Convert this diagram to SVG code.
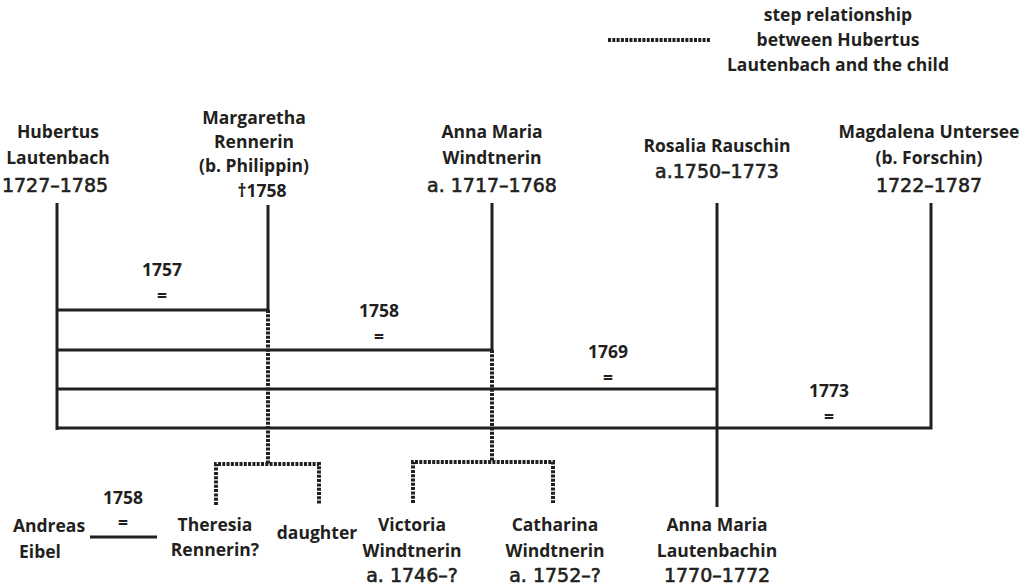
<svg xmlns="http://www.w3.org/2000/svg" width="1030" height="585" viewBox="0 0 1030 585">
<style>
.n{font-family:"Open Sans","Liberation Sans",sans-serif;font-weight:bold;font-size:17.5px;fill:#231f20;text-anchor:middle}
.y{font-family:"DejaVu Sans","Liberation Sans",sans-serif;font-size:19px;fill:#231f20;stroke:#231f20;stroke-width:0.6;text-anchor:middle}
.s{font-family:"Open Sans","Liberation Sans",sans-serif;font-weight:bold;font-size:17.5px;fill:#231f20;text-anchor:middle}
.l{stroke:#231f20;stroke-width:3;fill:none}
.d{stroke:#231f20;stroke-width:4;fill:none;stroke-dasharray:3 1.3}
</style>
<rect width="1030" height="585" fill="#fff"/>
<g id="connectors">
<path class="l" d="M57,203V430"/>
<path class="l" d="M268,205V310H57"/>
<path class="l" d="M492,203V350H57"/>
<path class="l" d="M717,203V507M717,389H57"/>
<path class="l" d="M931,203V428H56"/>
<path class="d" d="M268,310V464M216,505V464H319V505"/>
<path class="d" d="M492,350V462M413,503V462H553V503"/>
<path class="l" d="M90,537H157"/>
</g>
<g id="legend">
<path class="d" d="M608,40H711"/>
<text class="n" x="838" y="21">step relationship</text>
<text class="n" x="838" y="46">between Hubertus</text>
<text class="n" x="838" y="71">Lautenbach and the child</text>
</g>
<g id="hubertus">
<text class="n" x="58" y="138">Hubertus</text>
<text class="n" x="58" y="164">Lautenbach</text>
<text class="y" x="55" y="192">1727–1785</text>
</g>
<g id="margaretha">
<text class="n" x="254" y="124">Margaretha</text>
<text class="n" x="254" y="148">Rennerin</text>
<text class="n" x="254" y="172">(b. Philippin)</text>
<text class="n" x="262" y="197">†1758</text>
</g>
<g id="annamaria">
<text class="n" x="492" y="138">Anna Maria</text>
<text class="n" x="492" y="164">Windtnerin</text>
<text class="y" x="492" y="192">a. 1717–1768</text>
</g>
<g id="rosalia">
<text class="n" x="717" y="152">Rosalia Rauschin</text>
<text class="y" x="717" y="178">a.1750–1773</text>
</g>
<g id="magdalena">
<text class="n" x="929" y="138">Magdalena Untersee</text>
<text class="n" x="929" y="164">(b. Forschin)</text>
<text class="y" x="929" y="192">1722–1787</text>
</g>
<g id="marriages">
<text class="s" x="162" y="276">1757</text>
<text class="s" x="162" y="302">=</text>
<text class="s" x="379" y="317">1758</text>
<text class="s" x="379" y="343">=</text>
<text class="s" x="608" y="358">1769</text>
<text class="s" x="608" y="384">=</text>
<text class="s" x="829" y="397">1773</text>
<text class="s" x="829" y="423">=</text>
<text class="s" x="123" y="504">1758</text>
<text class="s" x="123" y="529">=</text>
</g>
<g id="andreas">
<text class="n" x="49" y="532">Andreas</text>
<text class="n" x="40" y="558">Eibel</text>
</g>
<g id="theresia">
<text class="n" x="215" y="531">Theresia</text>
<text class="n" x="215" y="556">Rennerin?</text>
</g>
<g id="daughter">
<text class="n" x="317" y="539">daughter</text>
</g>
<g id="victoria">
<text class="n" x="412" y="531">Victoria</text>
<text class="n" x="412" y="557">Windtnerin</text>
<text class="y" x="412" y="582">a. 1746–?</text>
</g>
<g id="catharina">
<text class="n" x="555" y="531">Catharina</text>
<text class="n" x="555" y="557">Windtnerin</text>
<text class="y" x="555" y="582">a. 1752–?</text>
</g>
<g id="lautenbachin">
<text class="n" x="717" y="531">Anna Maria</text>
<text class="n" x="717" y="557">Lautenbachin</text>
<text class="y" x="717" y="582">1770–1772</text>
</g>
</svg>
